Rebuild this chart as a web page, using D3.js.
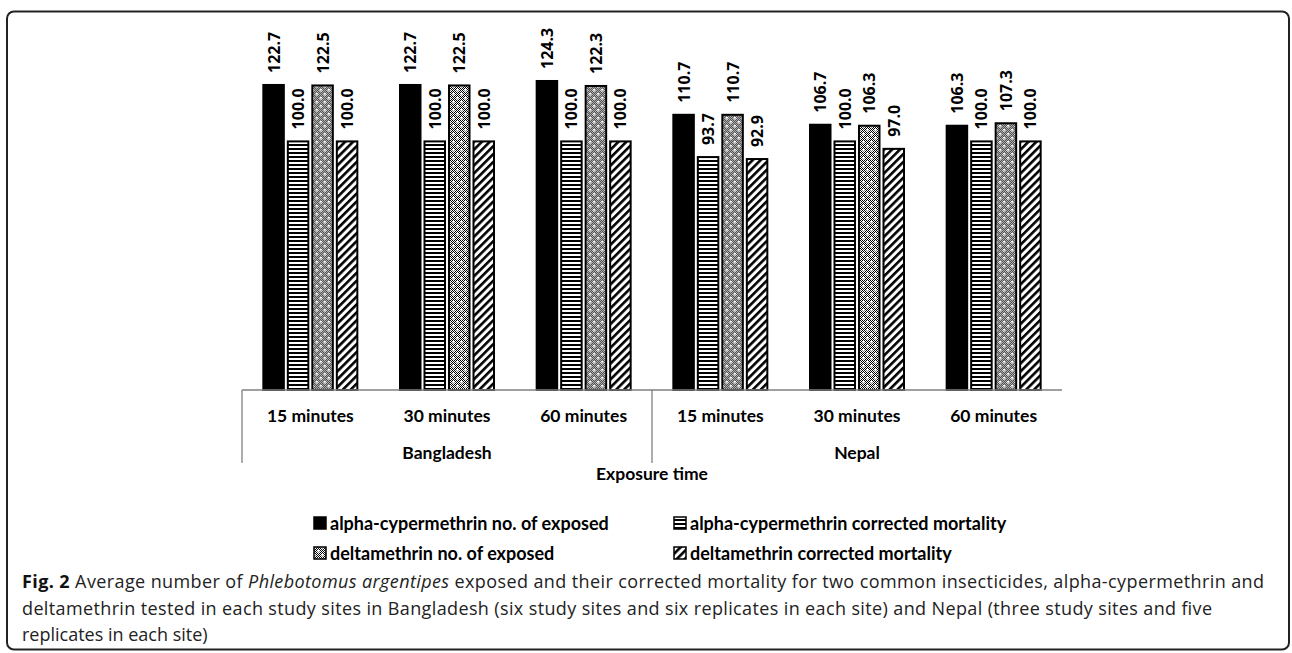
<!DOCTYPE html>
<html>
<head>
<meta charset="utf-8">
<script src="https://cdn.jsdelivr.net/npm/d3@7"></script>
<style>
  body { margin: 0; background: #fff; }
  svg { display: block; }
  .lbl { font-family: Lato, "Open Sans", sans-serif; font-weight: 700; fill: #000; }
  .val { font-family: "Open Sans", sans-serif; font-weight: 700; fill: #000; }
  .cap { font-family: "Open Sans", sans-serif; fill: #222; }
</style>
</head>
<body>
<div id="chart"></div>
<script>
// data
const categories = ["15 minutes", "30 minutes", "60 minutes", "15 minutes", "30 minutes", "60 minutes"];
const countries = ["Bangladesh", "Nepal"];
const seriesNames = [
    "alpha-cypermethrin no. of exposed",
    "alpha-cypermethrin corrected mortality",
    "deltamethrin no. of exposed",
    "deltamethrin corrected mortality"
];
const alphaExposed = [122.7, 122.7, 124.3, 110.7, 106.7, 106.3];
const alphaMortality = [100.0, 100.0, 100.0, 93.7, 100.0, 100.0];
const deltaExposed = [122.5, 122.5, 122.3, 110.7, 106.3, 107.3];
const deltaMortality = [100.0, 100.0, 100.0, 92.9, 97.0, 100.0];
const captionLines = [
    "Average number of ",
    "deltamethrin tested in each study sites in Bangladesh (six study sites and six replicates in each site) and Nepal (three study sites and five",
    "replicates in each site)"
];

const allSeries = [alphaExposed, alphaMortality, deltaExposed, deltaMortality];
const fills = ["#000", "url(#hstripe)", "url(#dots)", "url(#diag)"];

const width = 1292, height = 653;
const baseY = 390;

var svg = d3.select("#chart").append("svg")
    .attr("width", width)
    .attr("height", height);

// patterns
var defs = svg.append("defs");

var hs = defs.append("pattern").attr("id", "hstripe")
    .attr("patternUnits", "userSpaceOnUse").attr("width", 6).attr("height", 4);
hs.append("rect").attr("width", 6).attr("height", 4).attr("fill", "#fff");
hs.append("rect").attr("y", 0).attr("width", 6).attr("height", 2).attr("fill", "#000");

var dg = defs.append("pattern").attr("id", "diag")
    .attr("patternUnits", "userSpaceOnUse").attr("width", 5.6).attr("height", 5.6)
    .attr("patternTransform", "rotate(45)");
dg.append("rect").attr("width", 5.6).attr("height", 5.6).attr("fill", "#fff");
dg.append("rect").attr("x", 0).attr("width", 2.6).attr("height", 5.6).attr("fill", "#000");

var dt = defs.append("pattern").attr("id", "dots")
    .attr("patternUnits", "userSpaceOnUse").attr("width", 8).attr("height", 8);
dt.append("rect").attr("width", 8).attr("height", 8).attr("fill", "#fff");
var checker = "";
for (let i = 0; i < 8; i++) {
    for (let j = 0; j < 8; j++) {
        if ((i + j) % 2 == 0) checker += "M" + i + "," + j + "h1v1h-1z";
    }
}
dt.append("path").attr("d", checker).attr("fill", "#000");
dt.append("path").attr("d", "M1,0.5h1v3h-1zM0,1.5h3v1h-3zM5,4.5h1v3h-1zM4,5.5h3v1h-3z").attr("fill", "#fff");

// frame
svg.append("rect")
    .attr("x", 7).attr("y", 11.5)
    .attr("width", 1282).attr("height", 638)
    .attr("rx", 7)
    .attr("fill", "none")
    .attr("stroke", "#222")
    .attr("stroke-width", 2);

// scales
var x0 = d3.scaleBand()
    .domain(d3.range(categories.length))
    .range([242, 1062])
    .padding(0);

var x1 = d3.scaleBand()
    .domain(d3.range(seriesNames.length))
    .range([0, 94])
    .paddingInner(0.163)
    .paddingOuter(0);

var y = d3.scaleLinear()
    .domain([0, 130])
    .range([baseY, baseY - 130 * 2.486]);

var groupOff = (x0.bandwidth() - 94) / 2;

var groups = svg.append("g").selectAll("g")
    .data(categories)
    .enter()
    .append("g")
    .attr("transform", (d, i) => "translate(" + (x0(i) + groupOff) + ",0)");

groups.each(function(cat, ci) {
    var g = d3.select(this);
    allSeries.forEach((vals, si) => {
        var v = vals[ci];
        g.append("rect")
            .attr("x", x1(si))
            .attr("y", y(v))
            .attr("width", x1.bandwidth())
            .attr("height", baseY - y(v))
            .attr("fill", fills[si])
            .attr("stroke", "#000")
            .attr("stroke-width", 2);
        g.append("text")
            .attr("class", "val")
            .attr("transform", "translate(" + (x1(si) + x1.bandwidth() / 2) + "," + (y(v) - 12) + ") rotate(-90)")
            .attr("dominant-baseline", "central")
            .style("font-size", "16px")
            .text(v.toFixed(1));
    });
});

// multi-level category axis
var axis = svg.append("g").attr("stroke", "#808080").attr("stroke-width", 1.3);
axis.append("line").attr("x1", 242).attr("x2", 1062).attr("y1", baseY).attr("y2", baseY);
[242, 652].forEach(xx => {
    axis.append("line").attr("x1", xx).attr("x2", xx).attr("y1", baseY).attr("y2", 463);
});

svg.append("g").selectAll("text")
    .data(categories)
    .enter()
    .append("text")
    .attr("class", "lbl")
    .attr("x", (d, i) => x0(i) + x0.bandwidth() / 2)
    .attr("y", 415)
    .attr("text-anchor", "middle")
    .attr("dominant-baseline", "central")
    .style("font-size", "17.5px")
    .text(d => d);

svg.append("g").selectAll("text")
    .data(countries)
    .enter()
    .append("text")
    .attr("class", "lbl")
    .attr("x", (d, i) => (x0(i * 3) + x0(i * 3 + 2) + x0.bandwidth()) / 2)
    .attr("y", 452)
    .attr("text-anchor", "middle")
    .attr("dominant-baseline", "central")
    .style("font-size", "17.5px")
    .text(d => d);

svg.append("text")
    .attr("class", "lbl")
    .attr("x", 652)
    .attr("y", 473)
    .attr("text-anchor", "middle")
    .attr("dominant-baseline", "central")
    .style("font-size", "17.5px")
    .text("Exposure time");

// legend
var legendPos = [[313, 523], [673, 523], [313, 553], [673, 553]];
var legend = svg.append("g").selectAll("g")
    .data(seriesNames)
    .enter()
    .append("g")
    .attr("transform", (d, i) => "translate(" + legendPos[i][0] + "," + legendPos[i][1] + ")");
legend.append("rect")
    .attr("x", 1).attr("y", -6)
    .attr("width", 12).attr("height", 12)
    .attr("fill", (d, i) => fills[i])
    .attr("stroke", "#000")
    .attr("stroke-width", 1.5);
legend.append("text")
    .attr("class", "lbl")
    .attr("x", 17)
    .attr("y", 0)
    .attr("dominant-baseline", "central")
    .style("font-size", "18px")
    .text(d => d);

// caption
var cap = svg.append("g").attr("class", "cap").style("font-size", "18px");
var l1 = cap.append("text").attr("x", 22).attr("y", 588)
    .attr("textLength", 1242).attr("lengthAdjust", "spacing");
l1.append("tspan").style("font-weight", 700).style("fill", "#111").text("Fig. 2 ");
l1.append("tspan").text(captionLines[0]);
l1.append("tspan").style("font-style", "italic").text("Phlebotomus argentipes");
l1.append("tspan").text(" exposed and their corrected mortality for two common insecticides, alpha-cypermethrin and");
cap.append("text").attr("x", 22).attr("y", 615)
    .attr("textLength", 1190).attr("lengthAdjust", "spacing")
    .text(captionLines[1]);
cap.append("text").attr("x", 22).attr("y", 641).text(captionLines[2]);
</script>
</body>
</html>
